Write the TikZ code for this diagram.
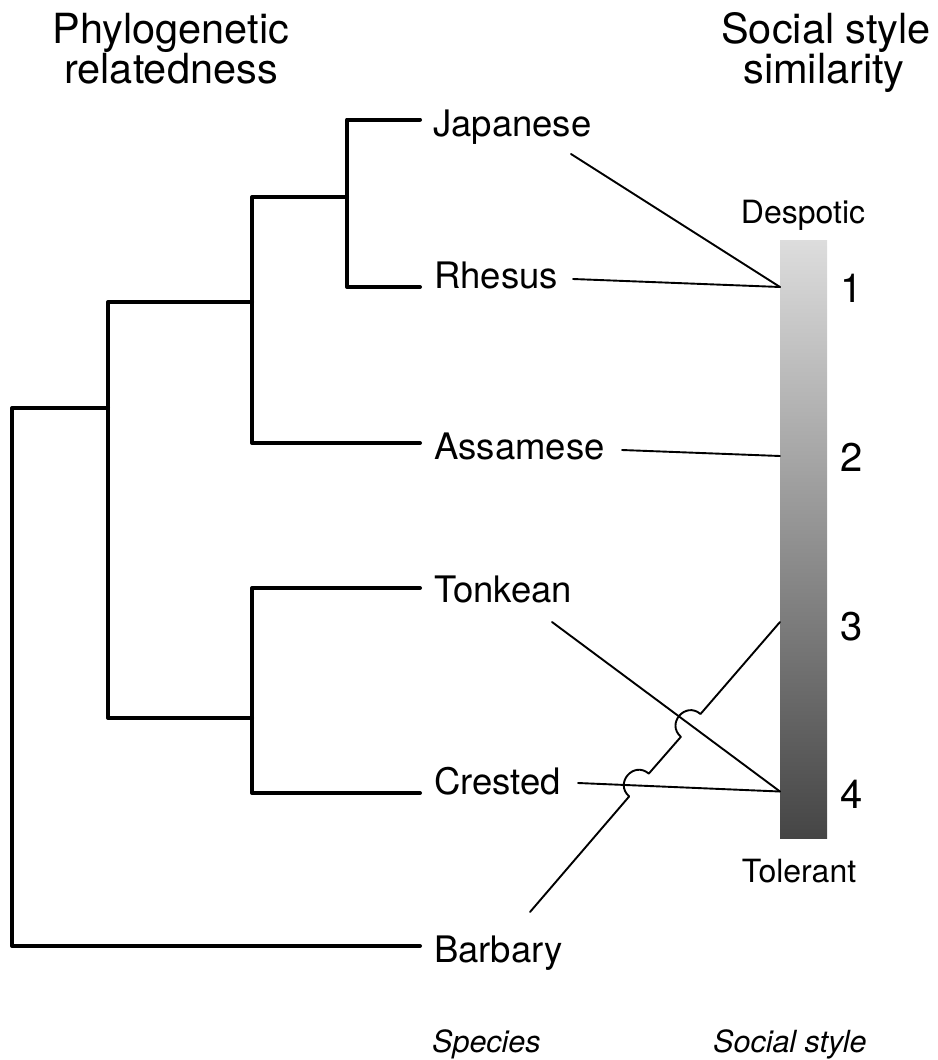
\documentclass[tikz,border=0pt]{standalone}
\usepackage{fontspec}
\setmainfont{TeX Gyre Heros}
\definecolor{barTop}{HTML}{DDDDDD}
\definecolor{barBot}{HTML}{454545}
\begin{document}
\begin{tikzpicture}[x=1pt,y=-1pt,
  tree/.style={line width=4pt, line cap=round, line join=round},
  conn/.style={line width=1.9pt, line cap=round, line join=round},
  splabel/.style={anchor=base west, inner sep=0pt, font=\fontsize{36.5}{42}\selectfont},
  head/.style={anchor=base, inner sep=0pt, font=\fontsize{41.5}{48}\selectfont},
  numlabel/.style={anchor=base west, inner sep=0pt, font=\fontsize{40}{46}\selectfont},
  small/.style={anchor=base, inner sep=0pt, font=\fontsize{32}{38}\selectfont},
  smallit/.style={anchor=base west, inner sep=0pt, font=\fontsize{30.5}{36}\selectfont\itshape}]
\useasboundingbox (0,0) rectangle (937,1060);

% headings
\node[head] (h1a) at (171,43) {Phylogenetic};
\node[head] (h1b) at (171,83) {relatedness};
\node[head] (h2a) at (826,43) {Social style};
\node[head] (h2b) at (824,83) {similarity};

% tree tips and internal points
\coordinate (jt) at (420,119.5);
\coordinate (rt) at (420,287);
\coordinate (at) at (420,443);
\coordinate (tt) at (420,588);
\coordinate (ct) at (420,793);
\coordinate (bt) at (420,946);
\coordinate (nJR) at (347,197);
\coordinate (nJRA) at (252,302);
\coordinate (nTC) at (252,718);
\coordinate (nIn) at (108,408);
\coordinate (root) at (12,700);

\draw[tree] (jt) -| (nJR) |- (rt);
\draw[tree] (nJR) -| (nJRA) |- (at);
\draw[tree] (tt) -| (nTC) |- (ct);
\draw[tree] (nJRA) -| (nIn) |- (nTC);
\draw[tree] (nIn) -| (root) |- (bt);

% species labels
\node[splabel] (jap) at (433,136) {Japanese};
\node[splabel] (rhe) at (434,288) {Rhesus};
\node[splabel] (ass) at (434,459) {Assamese};
\node[splabel] (ton) at (434,602) {Tonkean};
\node[splabel] (cre) at (434,794) {Crested};
\node[splabel] (bar) at (434,962) {Barbary};

% social style bar
\shade[top color=barTop, bottom color=barBot] (780,240) rectangle (827,838);
\node[small] (desp) at (803,223) {Despotic};
\node[small] (tol) at (799,882) {Tolerant};
\node[numlabel] (n1) at (840,302) {1};
\node[numlabel] (n2) at (840,471) {2};
\node[numlabel] (n3) at (840,640) {3};
\node[numlabel] (n4) at (840,808) {4};

% connector ends
\coordinate (s1) at (780,287);
\coordinate (s2) at (780,456);
\coordinate (s3) at (780,622);
\coordinate (s4) at (780,791.5);
\coordinate (jE) at (571,154);
\coordinate (rE) at (573,279);
\coordinate (aE) at (622,450);
\coordinate (tE) at (552,622);
\coordinate (cE) at (578,783);
\coordinate (bE) at (530,912);

\draw[conn] (jE) -- (s1);
\draw[conn] (rE) -- (s1);
\draw[conn] (aE) -- (s2);
\draw[conn] (tE) -- (s4);
\draw[conn] (cE) -- (s4);

% Barbary connector with two hops
\coordinate (hop1a) at (629.2,796.4);
\coordinate (hop1b) at (648.8,773.6);
\coordinate (hop2a) at (680.9,736.8);
\coordinate (hop2b) at (700.5,714.0);
\draw[conn] (bE) -- (hop1a)
  .. controls (614.1,783.3) and (633.6,760.6) .. (hop1b)
  -- (hop2a)
  .. controls (665.8,723.7) and (685.4,701.0) .. (hop2b)
  -- (s3);

% footer
\node[smallit] (fsp) at (432,1052) {Species};
\node[smallit] (fss) at (713,1052) {Social style};
\end{tikzpicture}
\end{document}
